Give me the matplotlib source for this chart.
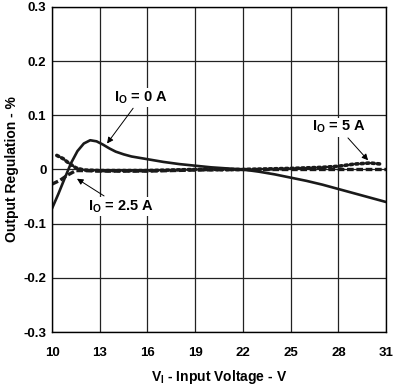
import matplotlib
matplotlib.use("Agg")
import matplotlib.pyplot as plt

plt.rcParams["font.family"] = ["Liberation Sans", "DejaVu Sans"]
plt.rcParams["font.weight"] = "bold"
plt.rcParams["mathtext.default"] = "regular"

# I_O = 0 A (solid)
v_0a = [10, 10.4, 10.8, 11.2, 11.6, 12.0, 12.4, 12.8, 13.2, 13.6, 14.0, 14.5,
        15, 16, 17, 18, 19, 20, 21, 22, 23, 24, 25, 26, 27, 28, 29, 30, 31]
reg_0a = [-0.072, -0.045, -0.016, 0.012, 0.034, 0.048, 0.054, 0.052, 0.046,
          0.039, 0.033, 0.028, 0.024, 0.019, 0.014, 0.010, 0.007, 0.004,
          0.002, 0.0, -0.004, -0.009, -0.015, -0.021, -0.028, -0.036, -0.044,
          -0.052, -0.060]

# I_O = 2.5 A (dashed)
v_25a = [10, 10.5, 11, 11.5, 12, 13, 14, 16, 19, 22, 25, 28, 30, 31]
reg_25a = [-0.027, -0.020, -0.010, -0.002, -0.002, -0.003, -0.003, -0.003,
           -0.001, 0.0, 0.0, 0.0, 0.0, 0.0]

# I_O = 5 A (dotted)
v_5a = [10.3, 10.7, 11, 11.5, 12, 13, 16, 19, 22, 25, 27, 28, 29, 30, 30.7]
reg_5a = [0.026, 0.020, 0.013, 0.003, -0.001, -0.002, -0.002, 0.0, 0.0,
          0.002, 0.004, 0.006, 0.010, 0.012, 0.010]

x_ticks = [10, 13, 16, 19, 22, 25, 28, 31]
y_ticks = [-0.3, -0.2, -0.1, 0, 0.1, 0.2, 0.3]
y_labels = ["-0.3", "-0.2", "-0.1", "0", "0.1", "0.2", "0.3"]

fig = plt.figure(figsize=(3.98, 3.88), dpi=100)
ax = fig.add_axes([0.1307, 0.1443, 0.8393, 0.8377])

ax.plot(v_0a, reg_0a, color="#1a1a1a", lw=1.9, solid_capstyle="round")
ax.plot(v_25a, reg_25a, color="#1a1a1a", lw=2.4, linestyle=(0, (2.0, 0.8)))
ax.plot(v_5a, reg_5a, color="#1a1a1a", lw=2.6, linestyle=(0, (0.6, 0.9)),
        dash_capstyle="round")

ax.set_xlim(10, 31)
ax.set_ylim(-0.3, 0.3)
ax.set_xticks(x_ticks)
ax.set_yticks(y_ticks)
ax.set_yticklabels(y_labels)
ax.tick_params(axis="x", length=0, labelsize=9.5, pad=11)
ax.tick_params(axis="y", length=0, labelsize=9.5, pad=4)
ax.grid(True, color="#222222", lw=0.9)
for s in ax.spines.values():
    s.set_linewidth(1.0)

ax.set_xlabel("V$_I$ - Input Voltage - V", fontsize=10, fontweight="bold", labelpad=6)
ax.set_ylabel("Output Regulation - %", fontsize=10, fontweight="bold", labelpad=3)

arrow = dict(arrowstyle="-|>", color="black", lw=0.7, mutation_scale=9,
             shrinkA=1, shrinkB=0)
box = dict(boxstyle="square,pad=0.1", fc="white", ec="none")
ax.annotate("I$_O$ = 0 A", xy=(13.46, 0.048), xytext=(15.6, 0.133),
            ha="center", va="center", fontsize=10.5, fontweight="bold",
            bbox=box, arrowprops=arrow)
ax.annotate("I$_O$ = 2.5 A", xy=(11.57, -0.017), xytext=(14.3, -0.068),
            ha="center", va="center", fontsize=10.5, fontweight="bold",
            bbox=box, arrowprops=arrow)
ax.annotate("I$_O$ = 5 A", xy=(29.87, 0.017), xytext=(28.0, 0.078),
            ha="center", va="center", fontsize=10.5, fontweight="bold",
            bbox=box, arrowprops=arrow)

fig.savefig("out.png", dpi=100)
